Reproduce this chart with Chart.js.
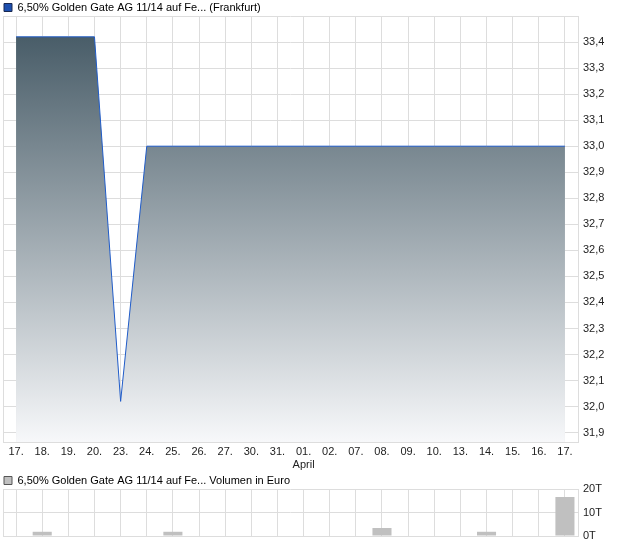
<!DOCTYPE html>
<html>
<head>
<meta charset="utf-8">
<script src="https://cdn.jsdelivr.net/npm/chart.js@4.4.1/dist/chart.umd.min.js"></script>
<style>
	body { margin: 0; background: #fff; }
	#priceBox { position: absolute; left: 0; top: 0; width: 620px; height: 470px; }
	#volBox { position: absolute; left: 0; top: 470px; width: 620px; height: 76px; }
</style>
</head>
<body>
<div id="priceBox"><canvas id="priceChart"></canvas></div>
<div id="volBox"><canvas id="volChart"></canvas></div>
<script>
var days = ['17.', '18.', '19.', '20.', '23.', '24.', '25.', '26.', '27.', '30.', '31.',
	'01.', '02.', '07.', '08.', '09.', '10.', '13.', '14.', '15.', '16.', '17.'];
var monthMarks = { 11: 'April' };
var prices = [33.42, 33.42, 33.42, 33.42, 32.02, 33.0, 33.0, 33.0, 33.0, 33.0, 33.0,
	33.0, 33.0, 33.0, 33.0, 33.0, 33.0, 33.0, 33.0, 33.0, 33.0, 33.0];
var volumes = [0, 1.8, 0, 0, 0, 0, 1.8, 0, 0, 0, 0,
	0, 0, 0, 3.4, 0, 0, 0, 1.8, 0, 0, 16.6]; // in T (Tausend Euro)
var priceName = '6,50% Golden Gate AG 11/14 auf Fe... (Frankfurt)';
var volName = '6,50% Golden Gate AG 11/14 auf Fe... Volumen in Euro';

var gridCol = '#dddddd';
Chart.defaults.font.family = '"Liberation Sans", Arial, sans-serif';
Chart.defaults.font.size = 11;
Chart.defaults.color = '#222';

// left frame line (the y axis sits on the right)
var frameLeft = {
	id: 'frameLeft',
	beforeDatasetsDraw: function (chart) {
		var a = chart.chartArea, c = chart.ctx;
		c.save();
		c.strokeStyle = gridCol;
		c.lineWidth = 1;
		c.beginPath();
		c.moveTo(Math.round(a.left) + 0.5, a.top);
		c.lineTo(Math.round(a.left) + 0.5, a.bottom);
		c.stroke();
		c.restore();
	}
};

// fixed legend height so the plot starts where the original does
function legendHeight(h) {
	return {
		id: 'legendHeight',
		beforeUpdate: function (chart) {
			var lg = chart.legend;
			if (!lg || lg._fixedH) return;
			var orig = lg.fit;
			lg.fit = function () { orig.call(this); this.height = h; };
			lg._fixedH = true;
		}
	};
}

function legendOpts(text, fill, stroke) {
	return {
		display: true,
		align: 'start',
		labels: {
			boxWidth: 8,
			boxHeight: 8,
			padding: 1,
			color: '#000',
			font: { size: 11 },
			generateLabels: function () {
				return [{ text: text, fillStyle: fill, strokeStyle: stroke, lineWidth: 1, datasetIndex: 0 }];
			}
		},
		onClick: function () {}
	};
}

new Chart(document.getElementById('priceChart'), {
	type: 'line',
	data: {
		labels: days,
		datasets: [{
			label: priceName,
			data: prices,
			borderColor: '#1f5bc8',
			borderWidth: 1,
			tension: 0,
			pointRadius: 0,
			fill: 'start',
			backgroundColor: function (ctx) {
				var a = ctx.chart.chartArea;
				if (!a) return 'rgba(0,0,0,0)';
				var g = ctx.chart.ctx.createLinearGradient(0, a.top, 0, a.bottom);
				g.addColorStop(0, 'rgb(64,85,97)');
				g.addColorStop(1, 'rgb(247,248,250)');
				return g;
			}
		}]
	},
	options: {
		responsive: true,
		maintainAspectRatio: false,
		animation: false,
		layout: { padding: { left: 3, top: 1, right: 0, bottom: 0 } },
		plugins: {
			legend: legendOpts(priceName, '#1d4fae', '#1a2850'),
			tooltip: { enabled: false }
		},
		scales: {
			x: {
				offset: true,
				grid: { color: gridCol, drawTicks: false, offset: false },
				border: { color: gridCol },
				ticks: {
					padding: 3,
					maxRotation: 0,
					autoSkip: false,
					color: '#222',
					callback: function (v, i) {
						return monthMarks[i] ? [days[i], monthMarks[i]] : days[i];
					}
				},
				afterFit: function (s) { s.height = 28; }
			},
			y: {
				position: 'right',
				min: 31.864,
				max: 33.5,
				grid: { color: gridCol, drawTicks: false },
				border: { color: gridCol },
				ticks: {
					stepSize: 0.1,
					includeBounds: false,
					padding: 5,
					color: '#222',
					callback: function (v) {
						if (v > 33.45) return '';
						return v.toFixed(1).replace('.', ',');
					}
				},
				afterFit: function (s) { s.width = 42; }
			}
		}
	},
	plugins: [frameLeft, legendHeight(15)]
});

new Chart(document.getElementById('volChart'), {
	type: 'bar',
	data: {
		labels: days,
		datasets: [{
			label: volName,
			data: volumes,
			backgroundColor: '#c0c0c0',
			borderWidth: 0,
			barPercentage: 0.73,
			categoryPercentage: 1
		}]
	},
	options: {
		responsive: true,
		maintainAspectRatio: false,
		animation: false,
		layout: { padding: { left: 3, top: 4, right: 0, bottom: 10 } },
		plugins: {
			legend: legendOpts(volName, '#c0c0c0', '#555555'),
			tooltip: { enabled: false }
		},
		scales: {
			x: {
				offset: true,
				grid: { color: gridCol, drawTicks: false, offset: false },
				border: { color: gridCol },
				ticks: { display: false },
				afterFit: function (s) { s.height = 0; }
			},
			y: {
				position: 'right',
				min: 0,
				max: 20,
				grid: { color: gridCol, drawTicks: false },
				border: { color: gridCol },
				ticks: {
					stepSize: 10,
					padding: 5,
					color: '#222',
					callback: function (v) { return v + 'T'; }
				},
				afterFit: function (s) {
					s.width = 42;
					s.paddingTop = 0;
					s.paddingBottom = 0;
				}
			}
		}
	},
	plugins: [frameLeft, legendHeight(15)]
});
</script>
</body>
</html>
